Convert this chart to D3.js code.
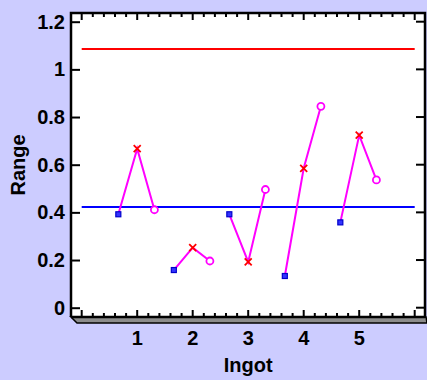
<!DOCTYPE html>
<html>
<head>
<meta charset="utf-8">
<script src="https://cdn.jsdelivr.net/npm/d3@7"></script>
<style>
  body { margin: 0; background: #ccccff; }
  svg { display: block; }
  text { font-family: "Liberation Sans", Arial, sans-serif; font-weight: bold; }
</style>
</head>
<body>
<svg id="chart"></svg>
<script>
// R chart data, one array per sample of each ingot
const ingots = [1, 2, 3, 4, 5];
const sample1 = [0.392, 0.158, 0.392, 0.133, 0.358];
const sample2 = [0.667, 0.252, 0.192, 0.585, 0.724];
const sample3 = [0.411, 0.196, 0.496, 0.845, 0.536];
const centerLine = 0.4225;
const upperLimit = 1.085;
const yTicks = [0, 0.2, 0.4, 0.6, 0.8, 1, 1.2];
const xLabels = ['1', '2', '3', '4', '5'];

const w = 427, h = 380;
const frame = { left: 71, right: 425, top: 13, bottom: 317 };

const svg = d3.select('#chart').attr('width', w).attr('height', h);

const x = d3.scaleLinear().domain([0, 6]).range([81.7, 414.7]);
const y = d3.scaleLinear().domain([0, 1.2]).range([307.7, 21.7]);

// plot background
svg.append('rect')
    .attr('x', frame.left).attr('y', frame.top)
    .attr('width', frame.right - frame.left)
    .attr('height', frame.bottom - frame.top)
    .attr('fill', '#fff');

// floor shadow under the x axis
svg.append('path')
    .attr('d', `M${frame.left},${frame.bottom} L${frame.right + 1},${frame.bottom} L${frame.right + 2},${frame.bottom + 6} L${frame.left + 6},${frame.bottom + 6} Z`)
    .attr('fill', '#8c8c8c')
    .attr('stroke', '#000')
    .attr('stroke-width', 1.5);

const minor = d3.range(0, 30.5).map(d => d / 5);

// bottom and top ticks
const tickG = svg.append('g').attr('stroke', '#000').attr('stroke-width', 2);
minor.forEach(v => {
    const major = Math.abs(v - Math.round(v)) < 1e-6;
    const len = major ? 7 : 4;
    tickG.append('line')
        .attr('x1', x(v)).attr('x2', x(v))
        .attr('y1', frame.bottom).attr('y2', frame.bottom - len);
    tickG.append('line')
        .attr('x1', x(v)).attr('x2', x(v))
        .attr('y1', frame.top).attr('y2', frame.top + len);
});

// left axis
const yAxis = svg.append('g')
    .attr('transform', `translate(${frame.left},0)`)
    .call(d3.axisLeft(y).tickValues(yTicks).tickSize(-9).tickPadding(6)
        .tickFormat(d3.format('~g')));
yAxis.select('.domain').remove();
yAxis.selectAll('.tick line').attr('stroke', '#000').attr('stroke-width', 2);
yAxis.selectAll('.tick text').attr('font-size', 20).attr('fill', '#000')
    .style('font-family', '"Liberation Sans", Arial, sans-serif');

// right side ticks
yTicks.forEach(v => {
    tickG.append('line')
        .attr('x1', frame.right).attr('x2', frame.right - 9)
        .attr('y1', y(v)).attr('y2', y(v));
});

// frame lines
svg.append('path')
    .attr('d', `M${frame.left},${frame.bottom} L${frame.left},${frame.top} L${frame.right},${frame.top} L${frame.right},${frame.bottom + 1} M${frame.left},${frame.bottom} L${frame.right},${frame.bottom}`)
    .attr('fill', 'none').attr('stroke', '#000').attr('stroke-width', 2.5);

// x labels
svg.append('g').selectAll('text')
    .data(ingots)
    .enter().append('text')
    .attr('x', d => x(d))
    .attr('y', 345)
    .attr('text-anchor', 'middle')
    .attr('font-size', 20)
    .text((d, i) => xLabels[i]);

// axis titles
svg.append('text')
    .attr('x', x(3)).attr('y', 372)
    .attr('text-anchor', 'middle').attr('font-size', 20)
    .text('Ingot');
svg.append('text')
    .attr('transform', `translate(25,${(frame.top + frame.bottom) / 2}) rotate(-90)`)
    .attr('text-anchor', 'middle').attr('font-size', 20)
    .text('Range');

// control lines
svg.append('line')
    .attr('x1', x(0)).attr('x2', x(6))
    .attr('y1', y(upperLimit)).attr('y2', y(upperLimit))
    .attr('stroke', '#ff0000').attr('stroke-width', 2);
svg.append('line')
    .attr('x1', x(0)).attr('x2', x(6))
    .attr('y1', y(centerLine)).attr('y2', y(centerLine))
    .attr('stroke', '#0000ff').attr('stroke-width', 2);

// samples per ingot
const offsets = [-0.34, 0, 0.31];
const groups = ingots.map((g, i) => [sample1[i], sample2[i], sample3[i]]
    .map((v, j) => ({ x: g + offsets[j], v: v })));

const line = d3.line().x(d => x(d.x)).y(d => y(d.v));
svg.append('g').selectAll('path')
    .data(groups)
    .enter().append('path')
    .attr('d', line)
    .attr('fill', 'none')
    .attr('stroke', '#ff00ff')
    .attr('stroke-width', 2);

// squares
svg.append('g').selectAll('rect')
    .data(groups.map(g => g[0]))
    .enter().append('rect')
    .attr('x', d => x(d.x) - 2.5).attr('y', d => y(d.v) - 2.5)
    .attr('width', 5).attr('height', 5)
    .attr('fill', '#3333ff').attr('stroke', '#0000cc').attr('stroke-width', 1.2);

// crosses
const crossG = svg.append('g').attr('stroke', '#ff0000').attr('stroke-width', 1.8);
groups.map(g => g[1]).forEach(d => {
    const cx = x(d.x), cy = y(d.v);
    crossG.append('path')
        .attr('d', `M${cx - 3.5},${cy - 3.5}L${cx + 3.5},${cy + 3.5}M${cx - 3.5},${cy + 3.5}L${cx + 3.5},${cy - 3.5}`);
});

// circles
svg.append('g').selectAll('circle')
    .data(groups.map(g => g[2]))
    .enter().append('circle')
    .attr('cx', d => x(d.x)).attr('cy', d => y(d.v))
    .attr('r', 3.5)
    .attr('fill', '#fff').attr('stroke', '#ff00ff').attr('stroke-width', 1.8);
</script>
</body>
</html>
